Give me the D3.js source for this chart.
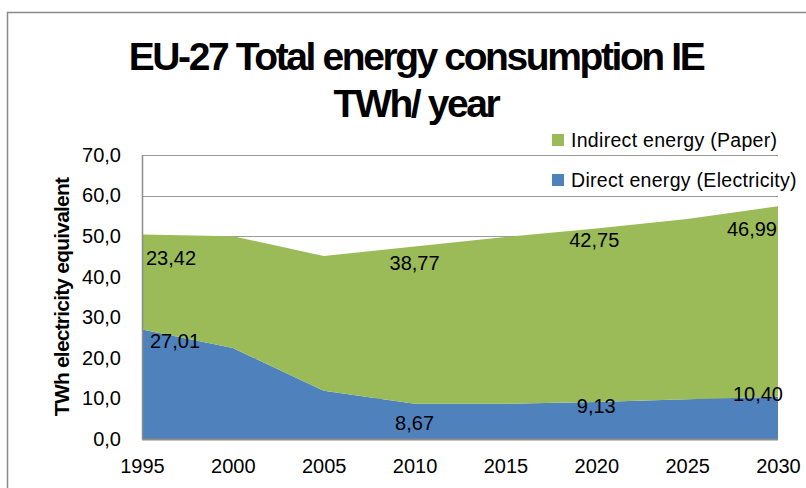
<!DOCTYPE html>
<html>
<head>
<meta charset="utf-8">
<script src="https://cdn.jsdelivr.net/npm/d3@7"></script>
<style>
    body { margin: 0; background: #fff; }
    svg text { font-family: "Liberation Sans", Arial, sans-serif; }
</style>
</head>
<body>
<div id="chart"></div>
<script>
// values (2000, 2005, 2015, 2025 are estimates)
var years = [1995, 2000, 2005, 2010, 2015, 2020, 2025, 2030];
var direct = [27.01, 22.4, 11.9, 8.67, 8.7, 9.13, 9.8, 10.40];
var indirect = [23.42, 27.6, 33.2, 38.77, 41.1, 42.75, 44.4, 46.99];
var labelYears = [1995, 2010, 2020, 2030];
var seriesNames = ["Indirect energy (Paper)", "Direct energy (Electricity)"];
var titleLines = ["EU-27 Total energy consumption IE", "TWh/ year"];
var yTicks = [0, 10, 20, 30, 40, 50, 60, 70];

function makeChart() {
    var width = 806,
        height = 488;
    var plot = { left: 142, right: 778, top: 155, bottom: 439 };

    var svg = d3
        .select("#chart")
        .append("svg")
        .attr("width", width)
        .attr("height", height);

    // outer chart frame, runs off the picture on the right and bottom
    svg.append("path")
        .attr("d", "M7.5," + height + " V12.5 H" + width)
        .attr("fill", "none")
        .attr("stroke", "#8a8a8a")
        .attr("stroke-width", 1.5);

    var locale = d3.formatLocale({ decimal: ",", thousands: ".", grouping: [3], currency: ["", "€"] });
    var fmt1 = locale.format(".1f");
    var fmt2 = locale.format(".2f");

    var x = d3.scaleLinear().domain([1995, 2030]).range([plot.left, plot.right]);
    var y = d3.scaleLinear().domain([0, 70]).range([plot.bottom, plot.top]);

    var rows = years.map((yr, i) => ({ year: yr, direct: direct[i], indirect: indirect[i] }));
    var stacked = d3.stack().keys(["direct", "indirect"])(rows);
    var color = { direct: "#4f81bd", indirect: "#9bbb59" };

    // gridlines sit behind the areas
    svg.append("g")
        .selectAll("line")
        .data(yTicks.slice(1))
        .enter()
        .append("line")
        .attr("x1", plot.left)
        .attr("x2", plot.right)
        .attr("y1", (d) => Math.round(y(d)) + 0.5)
        .attr("y2", (d) => Math.round(y(d)) + 0.5)
        .attr("stroke", "#9a9a9a")
        .attr("stroke-width", 1.2);

    var area = d3
        .area()
        .x((d) => x(d.data.year))
        .y0((d) => y(d[0]))
        .y1((d) => y(d[1]));

    svg.append("g")
        .selectAll("path")
        .data(stacked)
        .enter()
        .append("path")
        .attr("fill", (d) => color[d.key])
        .attr("d", area);

    // axis lines
    svg.append("line")
        .attr("x1", plot.left + 0.5)
        .attr("x2", plot.left + 0.5)
        .attr("y1", plot.top)
        .attr("y2", plot.bottom)
        .attr("stroke", "#8c8c8c")
        .attr("stroke-width", 1.5);
    svg.append("line")
        .attr("x1", plot.left)
        .attr("x2", plot.right)
        .attr("y1", plot.bottom + 0.5)
        .attr("y2", plot.bottom + 0.5)
        .attr("stroke", "#8c8c8c")
        .attr("stroke-width", 2);

    // tick labels
    var yAxis = d3.axisLeft(y).tickValues(yTicks).tickFormat(fmt1).tickSize(0).tickPadding(21);
    var gy = svg.append("g").attr("transform", "translate(" + plot.left + ",0)").call(yAxis);
    var xAxis = d3.axisBottom(x).tickValues(years).tickFormat(d3.format("d")).tickSize(0).tickPadding(20);
    var gx = svg.append("g").attr("transform", "translate(0," + plot.bottom + ")").call(xAxis);
    [gy, gx].forEach((g) => {
        g.select(".domain").remove();
        g.selectAll("text")
            .attr("fill", "#000")
            .style("font-size", "20px")
            .style("font-family", "'Liberation Sans', Arial, sans-serif");
    });

    // data labels: nudges in px to sit where the original put them
    var nudge = {
        indirect: [[4, 23], [0, 16], [-2, 11], [-1, 23]],
        direct: [[8, 11], [0, 19], [0, 4], [5, -3]],
    };
    stacked.forEach((s) => {
        var pts = s.filter((d) => labelYears.indexOf(d.data.year) >= 0);
        svg.append("g")
            .selectAll("text")
            .data(pts)
            .enter()
            .append("text")
            .attr("x", (d, i) => x(d.data.year) + nudge[s.key][i][0])
            .attr("y", (d, i) => y(d[1]) + nudge[s.key][i][1])
            .attr("dy", "0.36em")
            .attr("text-anchor", (d, i) => (i === 0 ? "start" : i === pts.length - 1 ? "end" : "middle"))
            .style("font-size", "20px")
            .attr("fill", "#000")
            .text((d) => fmt2(d.data[s.key]));
    });

    // title
    svg.append("g")
        .selectAll("text")
        .data(titleLines)
        .enter()
        .append("text")
        .attr("x", 416)
        .attr("y", (d, i) => 70 + i * 47)
        .attr("text-anchor", "middle")
        .style("font-size", "39px")
        .style("font-weight", "bold")
        .style("letter-spacing", "-2.4px")
        .text((d) => d);

    // y axis title
    svg.append("text")
        .attr("transform", "translate(69," + (plot.top + plot.bottom) / 2 + ") rotate(-90)")
        .attr("text-anchor", "middle")
        .style("font-size", "21px")
        .style("font-weight", "bold")
        .style("letter-spacing", "-0.8px")
        .text("TWh electricity equivalent");

    // legend, laid over the top of the plot
    var legendKeys = ["indirect", "direct"];
    var legend = svg
        .append("g")
        .selectAll("g")
        .data(legendKeys)
        .enter()
        .append("g")
        .attr("transform", (d, i) => "translate(552," + (147 + i * 40) + ")");
    legend
        .append("rect")
        .attr("x", 0)
        .attr("y", -13)
        .attr("width", 12)
        .attr("height", 12)
        .attr("fill", (d) => color[d]);
    legend
        .append("text")
        .attr("x", 19)
        .attr("y", 0)
        .style("font-size", "19.5px")
        .style("letter-spacing", "0.3px")
        .text((d, i) => seriesNames[i]);
}

makeChart();
</script>
</body>
</html>
